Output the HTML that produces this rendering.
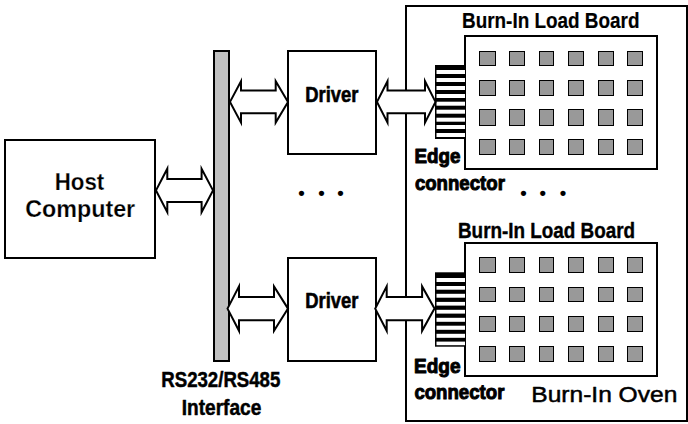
<!DOCTYPE html>
<html><head><meta charset="utf-8"><title>Burn-In System</title>
<style>
html,body{margin:0;padding:0;background:#fff;}
svg{display:block}
text{font-family:"Liberation Sans",Arial,Helvetica,sans-serif;fill:#000}
</style></head><body>
<svg width="688" height="424" viewBox="0 0 688 424">
<rect width="688" height="424" fill="#fff"/>
<rect x="406" y="6" width="281" height="415" fill="#fff" stroke="#000" stroke-width="2"/>
<rect x="5" y="140" width="150" height="118" fill="#fff" stroke="#000" stroke-width="2"/>
<rect x="214" y="51" width="15" height="310" fill="#c0c0c0" stroke="#000" stroke-width="2"/>
<rect x="288" y="51" width="88" height="103" fill="#fff" stroke="#000" stroke-width="2"/>
<rect x="288" y="258" width="88" height="103" fill="#fff" stroke="#000" stroke-width="2"/>
<rect x="465" y="36" width="192" height="133" fill="#fff" stroke="#000" stroke-width="2"/>
<rect x="465" y="243" width="192" height="133" fill="#fff" stroke="#000" stroke-width="2"/>
<rect x="435" y="65" width="30" height="74" fill="#000"/>
<rect x="436.5" y="70" width="28.5" height="4" fill="#fff"/>
<rect x="436.5" y="78" width="28.5" height="4" fill="#fff"/>
<rect x="436.5" y="86" width="28.5" height="4" fill="#fff"/>
<rect x="436.5" y="94" width="28.5" height="4" fill="#fff"/>
<rect x="436.5" y="101.7" width="28.5" height="4" fill="#fff"/>
<rect x="436.5" y="109.7" width="28.5" height="4" fill="#fff"/>
<rect x="436.5" y="117.7" width="28.5" height="4" fill="#fff"/>
<rect x="436.5" y="125" width="28.5" height="4" fill="#fff"/>
<rect x="436.5" y="133" width="28.5" height="4" fill="#fff"/>
<rect x="435" y="272.3" width="30" height="74.4" fill="#000"/>
<rect x="436.5" y="278" width="28.5" height="4" fill="#fff"/>
<rect x="436.5" y="286" width="28.5" height="3.7" fill="#fff"/>
<rect x="436.5" y="293.8" width="28.5" height="3.9" fill="#fff"/>
<rect x="436.5" y="301.9" width="28.5" height="3.7" fill="#fff"/>
<rect x="436.5" y="309.8" width="28.5" height="3.8" fill="#fff"/>
<rect x="436.5" y="317.8" width="28.5" height="4" fill="#fff"/>
<rect x="436.5" y="325.7" width="28.5" height="4.1" fill="#fff"/>
<rect x="436.5" y="333.8" width="28.5" height="4" fill="#fff"/>
<rect x="436.5" y="341.6" width="28.5" height="3.6" fill="#fff"/>
<g fill="#999" stroke="#000" stroke-width="1"><rect x="479.5" y="51.5" width="16" height="14"/>
<rect x="509.5" y="51.5" width="15" height="14"/>
<rect x="539.5" y="51.5" width="14" height="14"/>
<rect x="568.5" y="51.5" width="15" height="14"/>
<rect x="598.5" y="51.5" width="15" height="14"/>
<rect x="627.5" y="51.5" width="15" height="14"/>
<rect x="479.5" y="80.5" width="16" height="15"/>
<rect x="509.5" y="80.5" width="15" height="15"/>
<rect x="539.5" y="80.5" width="14" height="15"/>
<rect x="568.5" y="80.5" width="15" height="15"/>
<rect x="598.5" y="80.5" width="15" height="15"/>
<rect x="627.5" y="80.5" width="15" height="15"/>
<rect x="479.5" y="109.5" width="16" height="16"/>
<rect x="509.5" y="109.5" width="15" height="16"/>
<rect x="539.5" y="109.5" width="14" height="16"/>
<rect x="568.5" y="109.5" width="15" height="16"/>
<rect x="598.5" y="109.5" width="15" height="16"/>
<rect x="627.5" y="109.5" width="15" height="16"/>
<rect x="479.5" y="139.5" width="16" height="15"/>
<rect x="509.5" y="139.5" width="15" height="15"/>
<rect x="539.5" y="139.5" width="14" height="15"/>
<rect x="568.5" y="139.5" width="15" height="15"/>
<rect x="598.5" y="139.5" width="15" height="15"/>
<rect x="627.5" y="139.5" width="15" height="15"/></g>
<g fill="#999" stroke="#000" stroke-width="1"><rect x="479.5" y="257.5" width="16" height="15"/>
<rect x="509.5" y="257.5" width="15" height="15"/>
<rect x="539.5" y="257.5" width="14" height="15"/>
<rect x="568.5" y="257.5" width="15" height="15"/>
<rect x="598.5" y="257.5" width="15" height="15"/>
<rect x="627.5" y="257.5" width="15" height="15"/>
<rect x="479.5" y="287.5" width="16" height="14"/>
<rect x="509.5" y="287.5" width="15" height="14"/>
<rect x="539.5" y="287.5" width="14" height="14"/>
<rect x="568.5" y="287.5" width="15" height="14"/>
<rect x="598.5" y="287.5" width="15" height="14"/>
<rect x="627.5" y="287.5" width="15" height="14"/>
<rect x="479.5" y="316.5" width="16" height="15"/>
<rect x="509.5" y="316.5" width="15" height="15"/>
<rect x="539.5" y="316.5" width="14" height="15"/>
<rect x="568.5" y="316.5" width="15" height="15"/>
<rect x="598.5" y="316.5" width="15" height="15"/>
<rect x="627.5" y="316.5" width="15" height="15"/>
<rect x="479.5" y="346.5" width="16" height="15"/>
<rect x="509.5" y="346.5" width="15" height="15"/>
<rect x="539.5" y="346.5" width="14" height="15"/>
<rect x="568.5" y="346.5" width="15" height="15"/>
<rect x="598.5" y="346.5" width="15" height="15"/>
<rect x="627.5" y="346.5" width="15" height="15"/></g>
<path d="M156,190.4 L167.3,168.7 L167.3,178.9 L201.6,178.9 L201.6,168.7 L213,190.4 L201.6,212.1 L201.6,201.9 L167.3,201.9 L167.3,212.1 Z" fill="#fff" stroke="#000" stroke-width="2" stroke-linejoin="miter" stroke-miterlimit="10"/>
<path d="M230,101.9 L241,81.2 L241,90.5 L275.7,90.5 L275.7,81.2 L288,101.9 L275.7,122.6 L275.7,113.3 L241,113.3 L241,122.6 Z" fill="#fff" stroke="#000" stroke-width="2" stroke-linejoin="miter" stroke-miterlimit="10"/>
<path d="M377,101.9 L387.5,81.2 L387.5,90.5 L425,90.5 L425,81.2 L435.5,101.9 L425,122.6 L425,113.3 L387.5,113.3 L387.5,122.6 Z" fill="#fff" stroke="#000" stroke-width="2" stroke-linejoin="miter" stroke-miterlimit="10"/>
<path d="M227.5,308.6 L239,286.4 L239,297 L274,297 L274,286.4 L288,308.6 L274,330.8 L274,320.2 L239,320.2 L239,330.8 Z" fill="#fff" stroke="#000" stroke-width="2" stroke-linejoin="miter" stroke-miterlimit="10"/>
<path d="M375.2,308.6 L386.7,286.4 L386.7,296.9 L422.1,296.9 L422.1,286.4 L434.5,308.6 L422.1,330.8 L422.1,320.3 L386.7,320.3 L386.7,330.8 Z" fill="#fff" stroke="#000" stroke-width="2" stroke-linejoin="miter" stroke-miterlimit="10"/>
<text x="298.35 318.25 337.35" y="199.25" font-size="18.5" font-weight="bold">•••</text>
<text x="520.35 539.45 559.65" y="199.15" font-size="18.5" font-weight="bold">•••</text>
<text x="54.7" y="190" font-size="24.4" font-weight="bold" textLength="49.6" lengthAdjust="spacingAndGlyphs" stroke="#fff" stroke-width="0.25" stroke-linejoin="round">Host</text>
<text x="25.2" y="216.5" font-size="24.4" font-weight="bold" textLength="110" lengthAdjust="spacingAndGlyphs" stroke="#fff" stroke-width="0.25" stroke-linejoin="round">Computer</text>
<text x="305.3" y="101.6" font-size="21.5" font-weight="bold" textLength="53.2" lengthAdjust="spacingAndGlyphs" stroke="#000" stroke-width="0.6" stroke-linejoin="round">Driver</text>
<text x="305.3" y="307.7" font-size="21.5" font-weight="bold" textLength="53.2" lengthAdjust="spacingAndGlyphs" stroke="#000" stroke-width="0.6" stroke-linejoin="round">Driver</text>
<text x="462" y="27.6" font-size="22" font-weight="bold" textLength="177.5" lengthAdjust="spacingAndGlyphs" stroke="#000" stroke-width="0.2" stroke-linejoin="round">Burn-In Load Board</text>
<text x="458" y="237.6" font-size="22" font-weight="bold" textLength="177" lengthAdjust="spacingAndGlyphs" stroke="#000" stroke-width="0.4" stroke-linejoin="round">Burn-In Load Board</text>
<text x="414.4" y="162.8" font-size="20.6" font-weight="bold" textLength="46" lengthAdjust="spacingAndGlyphs" stroke="#000" stroke-width="1" stroke-linejoin="round">Edge</text>
<text x="414.9" y="189.7" font-size="20.6" font-weight="bold" textLength="90" lengthAdjust="spacingAndGlyphs" stroke="#000" stroke-width="1" stroke-linejoin="round">connector</text>
<text x="414" y="372.5" font-size="20.6" font-weight="bold" textLength="46.5" lengthAdjust="spacingAndGlyphs" stroke="#000" stroke-width="1" stroke-linejoin="round">Edge</text>
<text x="414.4" y="399.3" font-size="20.6" font-weight="bold" textLength="90" lengthAdjust="spacingAndGlyphs" stroke="#000" stroke-width="1" stroke-linejoin="round">connector</text>
<text x="161.3" y="387.4" font-size="21.5" font-weight="bold" textLength="119" lengthAdjust="spacingAndGlyphs" stroke="#000" stroke-width="0.5" stroke-linejoin="round">RS232/RS485</text>
<text x="181.8" y="415" font-size="21.5" font-weight="bold" textLength="79.5" lengthAdjust="spacingAndGlyphs" stroke="#000" stroke-width="0.5" stroke-linejoin="round">Interface</text>
<text x="531.3" y="402.3" font-size="22.6" font-weight="normal" textLength="146" lengthAdjust="spacingAndGlyphs" stroke="#000" stroke-width="0.5" stroke-linejoin="round">Burn-In Oven</text>
</svg>
</body></html>
